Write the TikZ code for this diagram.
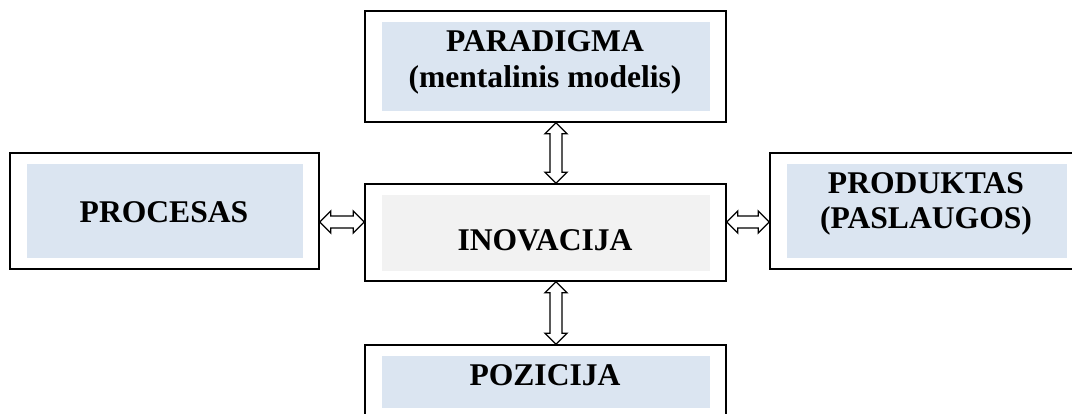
\documentclass[tikz,border=0pt]{standalone}
\usepackage{fontspec}
\setmainfont{Liberation Serif}
\usetikzlibrary{calc}
\definecolor{paleblue}{HTML}{DBE5F1}
\definecolor{palegray}{HTML}{F2F2F2}

% hollow two-headed arrow, vertical: #1 upper end, #2 lower end
\newcommand{\dblarrowv}[2]{%
  \draw[dblarrow] let \p1=(#1), \p2=(#2) in
    (\x1,\y1) -- (\x1+11pt,\y1-11pt) -- (\x1+6pt,\y1-11pt) -- (\x1+6pt,\y2+11pt)
    -- (\x1+11pt,\y2+11pt) -- (\x1,\y2) -- (\x1-11pt,\y2+11pt) -- (\x1-6pt,\y2+11pt)
    -- (\x1-6pt,\y1-11pt) -- (\x1-11pt,\y1-11pt) -- cycle;}
% hollow two-headed arrow, horizontal: #1 left end, #2 right end
\newcommand{\dblarrowh}[2]{%
  \draw[dblarrow] let \p1=(#1), \p2=(#2) in
    (\x1,\y1) -- (\x1+11pt,\y1+11pt) -- (\x1+11pt,\y1+6pt) -- (\x2-11pt,\y1+6pt)
    -- (\x2-11pt,\y1+11pt) -- (\x2,\y1) -- (\x2-11pt,\y1-11pt) -- (\x2-11pt,\y1-6pt)
    -- (\x1+11pt,\y1-6pt) -- (\x1+11pt,\y1-11pt) -- cycle;}

\tikzset{
  outerbox/.style={draw=black, line width=1.5pt, fill=white, inner sep=0pt},
  innerblue/.style={fill=paleblue, inner sep=0pt},
  innergray/.style={fill=palegray, inner sep=0pt},
  label/.style={font=\fontsize{31.6}{35.5}\selectfont\bfseries, align=center, inner sep=0pt, anchor=base},
  dblarrow/.style={draw=black, line width=1.4pt, fill=white, line join=miter}
}

\begin{document}
\begin{tikzpicture}[x=1pt, y=-1pt]
  \useasboundingbox (0,0) rectangle (1072,414);
  \clip (0,0) rectangle (1072,414);
  \fill[white] (0,0) rectangle (1072,414);

  % paradigm (top); a two-line label sits on its last baseline
  \node[outerbox, minimum width=361pt, minimum height=111pt] (top) at (545.5,66.5) {};
  \node[innerblue, minimum width=328pt, minimum height=89pt] (topin) at (546,66.5) {};
  \node[label] (toptxt) at (545,87.5) {PARADIGMA\\(mentalinis modelis)};

  % process (left)
  \node[outerbox, minimum width=309pt, minimum height=116pt] (left) at (164.5,211) {};
  \node[innerblue, minimum width=276pt, minimum height=94pt] (leftin) at (165,211) {};
  \node[label] (lefttxt) at (164,223) {PROCESAS};

  % innovation (centre)
  \node[outerbox, minimum width=361pt, minimum height=97pt] (mid) at (545.5,232.5) {};
  \node[innergray, minimum width=328pt, minimum height=76pt] (midin) at (546,233) {};
  \node[label] (midtxt) at (545,251) {INOVACIJA};

  % product (right)
  \node[outerbox, minimum width=314pt, minimum height=116pt] (right) at (927,211) {};
  \node[innerblue, minimum width=280pt, minimum height=94pt] (rightin) at (927,211) {};
  \node[label] (righttxt) at (926,229) {PRODUKTAS\\(PASLAUGOS)};

  % position (bottom)
  \node[outerbox, minimum width=361pt, minimum height=74pt] (bot) at (545.5,382) {};
  \node[innerblue, minimum width=328pt, minimum height=52pt] (botin) at (546,382) {};
  \node[label] (bottxt) at (545,385) {POZICIJA};

  % two-headed connectors
  \dblarrowv{$(top.south)+(10.5pt,0pt)$}{$(mid.north)+(10.5pt,0pt)$}
  \dblarrowv{$(mid.south)+(10.5pt,0pt)$}{$(bot.north)+(10.5pt,0pt)$}
  \dblarrowh{$(left.east)+(0pt,-11pt)$}{$(mid.west)+(0pt,-11pt)$}
  \dblarrowh{$(mid.east |- right.west)+(0pt,-11pt)$}{$(right.west)+(0pt,-11pt)$}
\end{tikzpicture}
\end{document}
